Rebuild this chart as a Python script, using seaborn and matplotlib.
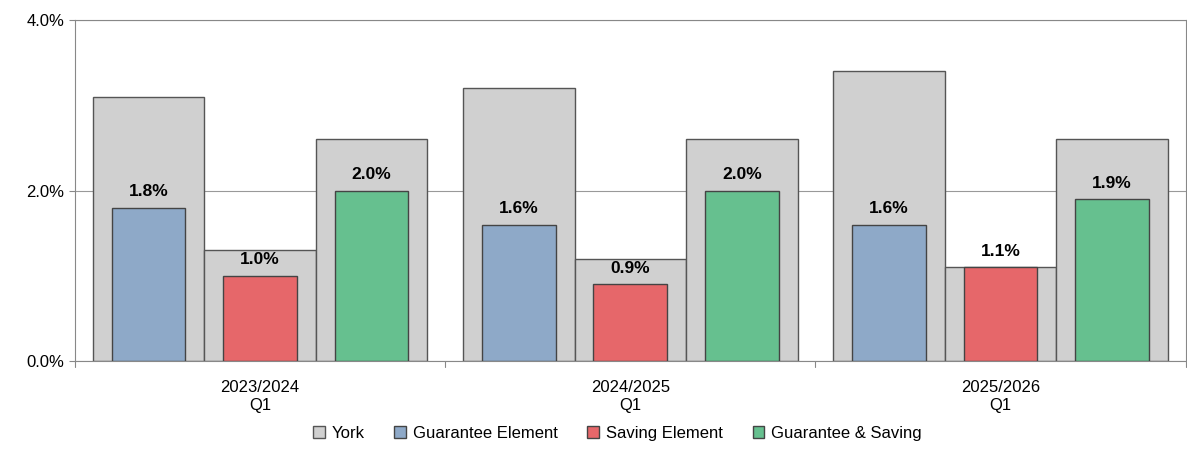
import matplotlib
matplotlib.use("Agg")
import numpy as np
import pandas as pd
import matplotlib.pyplot as plt
import matplotlib.ticker as mticker
from matplotlib.patches import Patch
import seaborn as sns

periods = ["2023/2024\nQ1", "2024/2025\nQ1", "2025/2026\nQ1"]
elements = ["Guarantee Element", "Saving Element", "Guarantee & Saving"]
york = [[3.1, 1.3, 2.6], [3.2, 1.2, 2.6], [3.4, 1.1, 2.6]]
local = [[1.8, 1.0, 2.0], [1.6, 0.9, 2.0], [1.6, 1.1, 1.9]]
colors = ["#8EA9C8", "#E6676A", "#66C08F"]
grey = "#D0D0D0"
PITCH = 3.32

rows = []
for i, p in enumerate(periods):
    for j, e in enumerate(elements):
        rows.append({"pos": i * PITCH + j, "element": e,
                     "york": york[i][j], "value": local[i][j]})
df = pd.DataFrame(rows)

sns.set_style("white")
plt.rcParams["font.family"] = ["Liberation Sans", "DejaVu Sans"]
fig, ax = plt.subplots(figsize=(11.87, 4.51), dpi=100)

sns.barplot(data=df, x="pos", y="york", color=grey, width=1.0, native_scale=True,
            edgecolor="#555555", linewidth=1, saturation=1, ax=ax, zorder=2)
sns.barplot(data=df, x="pos", y="value", hue="element", palette=colors,
            width=0.66, native_scale=True, edgecolor="#444444", linewidth=1,
            saturation=1, dodge=False, legend=False, ax=ax, zorder=3)

for x, v in zip(df["pos"], df["value"]):
    ax.text(x, v + 0.1, f"{v:.1f}%", ha="center", va="bottom", color="black",
            fontsize=12.5, fontweight="bold", zorder=4)

left = -0.5 - 0.16
right = 2 * PITCH + 2.5 + 0.16
ax.set_xlim(left, right)
ax.set_ylim(0, 4)
ax.yaxis.set_major_locator(mticker.MultipleLocator(2))
ax.yaxis.set_major_formatter(mticker.FormatStrFormatter("%.1f%%"))
ax.grid(axis="y", color="#999999", linewidth=0.8, zorder=0)
ax.set_xticks([1 + i * PITCH for i in range(3)])
ax.set_xticklabels(periods, fontsize=12, color="black")
ax.tick_params(axis="x", length=0, pad=14)
ax.tick_params(axis="y", labelsize=12, length=4, left=True, color="#888888",
               labelcolor="black")
for x in [left, 2.66, PITCH + 2.66, right]:
    ax.plot([x, x], [0, -0.07], color="#888888", lw=0.8, clip_on=False)
ax.set_xlabel("")
ax.set_ylabel("")
for s in ax.spines.values():
    s.set_color("#888888")
    s.set_linewidth(0.8)

handles = [Patch(facecolor=grey, edgecolor="#555555", label="York")] + \
    [Patch(facecolor=c, edgecolor="#444444", label=e) for c, e in zip(colors, elements)]
fig.legend(handles=handles, loc="lower center", ncol=4, frameon=False,
           fontsize=12, handlelength=0.7, handleheight=0.7, labelcolor="black",
           handletextpad=0.4, columnspacing=1.8, bbox_to_anchor=(0.52, -0.01))

fig.subplots_adjust(left=0.063, right=0.999, top=0.955, bottom=0.2)
fig.savefig("out.png", dpi=100)
